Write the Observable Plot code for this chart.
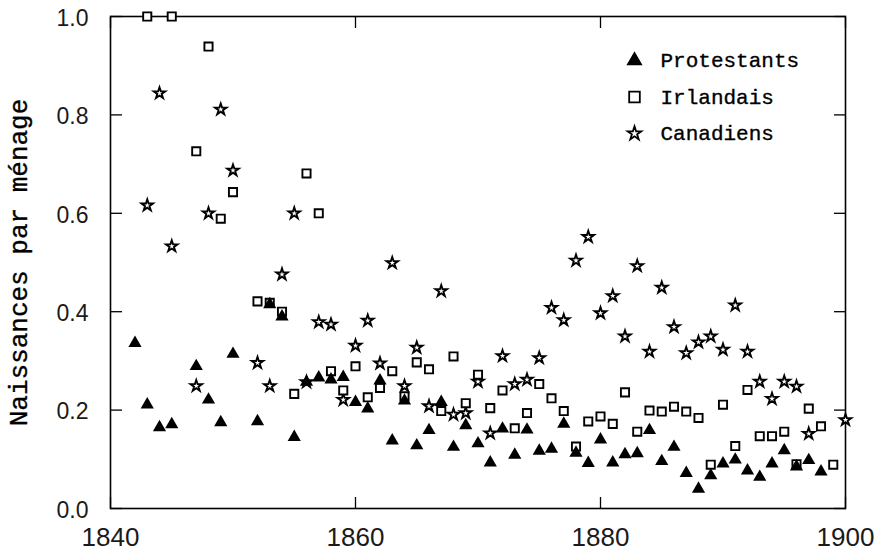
<!DOCTYPE html>
<html>
<head>
<meta charset="utf-8">
<script src="https://cdn.jsdelivr.net/npm/d3@7"></script>
<script src="https://cdn.jsdelivr.net/npm/@observablehq/plot@0.6"></script>
<style>
  html, body { margin: 0; padding: 0; background: #fff; }
  #chart svg { display: block; }
</style>
</head>
<body>
<div id="chart"></div>
<script>
// ---------- data ----------
const seriesNames = ["Protestants", "Irlandais", "Canadiens"];
const seriesSymbols = ["triangle", "square", "star"];

const protestants = [
  [1842, 0.336], [1843, 0.211], [1844, 0.165], [1845, 0.171], [1847, 0.289],
  [1848, 0.221], [1849, 0.175], [1850, 0.314], [1852, 0.177], [1853, 0.415],
  [1854, 0.390], [1855, 0.145], [1856, 0.257], [1857, 0.266], [1858, 0.262],
  [1859, 0.267], [1860, 0.216], [1861, 0.203], [1862, 0.260], [1863, 0.138],
  [1864, 0.219], [1865, 0.128], [1866, 0.159], [1867, 0.216], [1868, 0.125],
  [1869, 0.169], [1870, 0.132], [1871, 0.093], [1872, 0.162], [1873, 0.109],
  [1874, 0.160], [1875, 0.117], [1876, 0.121], [1877, 0.172], [1878, 0.113],
  [1879, 0.092], [1880, 0.140], [1881, 0.093], [1882, 0.110], [1883, 0.112],
  [1884, 0.159], [1885, 0.096], [1886, 0.125], [1887, 0.072], [1888, 0.040],
  [1889, 0.067], [1890, 0.091], [1891, 0.099], [1892, 0.077], [1893, 0.064],
  [1894, 0.091], [1895, 0.118], [1896, 0.085], [1897, 0.098], [1898, 0.075]
];

const irlandais = [
  [1843, 1.000], [1845, 1.000], [1847, 0.726], [1848, 0.939], [1849, 0.589],
  [1850, 0.643], [1852, 0.421], [1853, 0.418], [1854, 0.400], [1855, 0.233],
  [1856, 0.681], [1857, 0.600], [1858, 0.279], [1859, 0.240], [1860, 0.289],
  [1861, 0.226], [1862, 0.245], [1863, 0.279], [1864, 0.228], [1865, 0.297],
  [1866, 0.283], [1867, 0.198], [1868, 0.309], [1869, 0.214], [1870, 0.272],
  [1871, 0.204], [1872, 0.240], [1873, 0.163], [1874, 0.194], [1875, 0.253],
  [1876, 0.224], [1877, 0.198], [1878, 0.126], [1879, 0.177], [1880, 0.187],
  [1881, 0.172], [1882, 0.236], [1883, 0.156], [1884, 0.199], [1885, 0.197],
  [1886, 0.207], [1887, 0.197], [1888, 0.184], [1889, 0.089], [1890, 0.211],
  [1891, 0.127], [1892, 0.241], [1893, 0.147], [1894, 0.147], [1895, 0.156],
  [1896, 0.090], [1897, 0.203], [1898, 0.167], [1899, 0.089]
];

const canadiens = [
  [1843, 0.616], [1844, 0.844], [1845, 0.533], [1847, 0.249], [1848, 0.600],
  [1849, 0.811], [1850, 0.687], [1852, 0.296], [1853, 0.249], [1854, 0.476],
  [1855, 0.600], [1856, 0.257], [1857, 0.379], [1858, 0.374], [1859, 0.221],
  [1860, 0.331], [1861, 0.382], [1862, 0.295], [1863, 0.499], [1864, 0.249],
  [1865, 0.327], [1866, 0.208], [1867, 0.442], [1868, 0.191], [1869, 0.194],
  [1870, 0.258], [1871, 0.153], [1872, 0.310], [1873, 0.253], [1874, 0.262],
  [1875, 0.306], [1876, 0.408], [1877, 0.383], [1878, 0.504], [1879, 0.552],
  [1880, 0.397], [1881, 0.432], [1882, 0.350], [1883, 0.493], [1884, 0.319],
  [1885, 0.449], [1886, 0.369], [1887, 0.316], [1888, 0.338], [1889, 0.350],
  [1890, 0.323], [1891, 0.413], [1892, 0.319], [1893, 0.258], [1894, 0.223],
  [1895, 0.258], [1896, 0.248], [1897, 0.152], [1900, 0.180]
];

const xTicks = [1840, 1860, 1880, 1900];
const yTicks = [0, 0.2, 0.4, 0.6, 0.8, 1.0];
const yLabel = "Naissances par ménage";

// ---------- chart ----------
const sansFont = "Liberation Sans, Arial, sans-serif";
const monoFont = "Liberation Mono, Courier New, monospace";

const legendMarks = seriesNames.flatMap((name, i) => {
  const sym = seriesSymbols[i];
  const filled = sym === "triangle";
  return [
    Plot.dot([name], {
      frameAnchor: "top-right", dx: -211, dy: 44 + i * 36.5,
      symbol: sym,
      r: sym === "star" ? 4.3 : 6,
      fill: filled ? "black" : "white",
      stroke: filled ? "none" : "black",
      strokeWidth: 1.8
    }),
    Plot.text([name], {
      frameAnchor: "top-right", dx: -185, dy: 44 + i * 36.5,
      text: d => d, textAnchor: "start", lineAnchor: "middle",
      fontFamily: monoFont, fontSize: 21, fill: "black",
      stroke: "black", strokeWidth: 0.35
    })
  ];
});

const chart = Plot.plot({
  width: 887,
  height: 557,
  marginLeft: 110,
  marginRight: 42,
  marginTop: 16,
  marginBottom: 49,
  x: { domain: [1840, 1900] },
  y: { domain: [0, 1] },
  style: { background: "white", color: "black" },
  marks: [
    // inward tick marks
    Plot.axisY(yTicks, { anchor: "left", tickSize: 12, dx: 12, text: null, strokeWidth: 1.3 }),
    Plot.axisY(yTicks, { anchor: "right", tickSize: 12, dx: -12, text: null, strokeWidth: 1.3 }),
    Plot.axisX(xTicks, { anchor: "bottom", tickSize: 11, dy: -11, text: null, strokeWidth: 1.3 }),
    Plot.axisX(xTicks, { anchor: "top", tickSize: 11, dy: 11, text: null, strokeWidth: 1.3 }),
    // tick labels
    Plot.axisY(yTicks, {
      anchor: "left", tickSize: 0, tickPadding: 22, dy: 2,
      tickFormat: d3.format(".1f"), fontSize: 23, fontFamily: sansFont, label: null,
      fill: "#1a1a1a"
    }),
    Plot.axisX(xTicks, {
      anchor: "bottom", tickSize: 0, tickPadding: 19,
      tickFormat: d => String(d), fontSize: 26, fontFamily: sansFont, label: null,
      fill: "#1a1a1a"
    }),
    // y axis title
    Plot.text([yLabel], {
      frameAnchor: "left", dx: -92, rotate: -90,
      text: d => d, textAnchor: "middle", lineAnchor: "middle",
      fontFamily: monoFont, fontSize: 26, fill: "black",
      stroke: "black", strokeWidth: 0.35
    }),
    Plot.frame({ stroke: "black", strokeWidth: 1.6 }),
    // data
    Plot.dot(canadiens, {
      x: d => d[0], y: d => d[1], symbol: "star", r: 3.6,
      fill: "white", stroke: "black", strokeWidth: 1.9
    }),
    Plot.dot(irlandais, {
      x: d => d[0], y: d => d[1], symbol: "square", r: 4.6,
      fill: "white", stroke: "black", strokeWidth: 1.9
    }),
    Plot.dot(protestants, {
      x: d => d[0], y: d => d[1], symbol: "triangle", r: 4.9,
      fill: "black", stroke: "none"
    }),
    ...legendMarks
  ]
});

document.getElementById("chart").appendChild(chart);
</script>
</body>
</html>
